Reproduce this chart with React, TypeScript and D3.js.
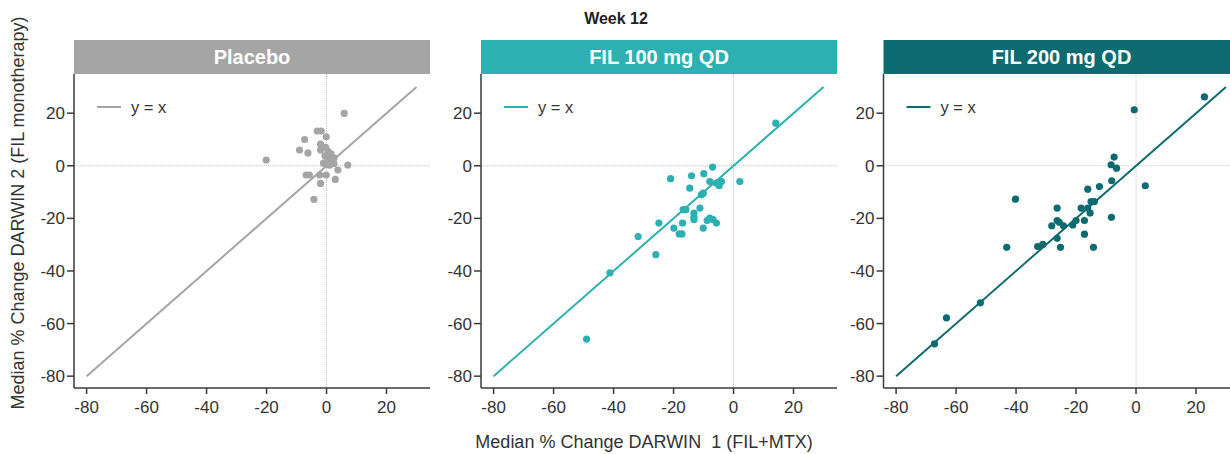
import * as d3 from "d3";

const panelNames = ["Placebo", "FIL 100 mg QD", "FIL 200 mg QD"];
const panelColors = ["#a5a5a5", "#2cb0b2", "#0b6b71"];
const xTicks = [-80, -60, -40, -20, 0, 20];
const yTicks = [-80, -60, -40, -20, 0, 20];

const placeboPts = [
  [5.9, 19.9], [-20.1, 2.2], [-3.1, 13.2], [-1.8, 13.2], [-0.1, 11], [-7.3, 10], [-9, 6], [-6.2, 4.9],
  [-2, 8.2], [-2, 6], [-0.3, 7], [0.5, 5.5], [1.5, 4.5], [-0.5, 3.8], [2.5, 3], [0.5, 2.5], [1.5, 1.8],
  [-1, 1], [0, 0.5], [2.5, 0.8], [1, 0.2], [7.1, 0.3], [3.8, -1.6], [2.9, -5.2], [-6.8, -3.5],
  [-5.7, -3.5], [-2.3, -3.5], [-0.1, -3.5], [-2, -6.7], [-4.2, -12.8],
];

const fil100Pts = [
  [14.1, 16.2], [-7, -0.5], [-21, -4.9], [-14, -3.8], [-9.9, -3], [-7.9, -6], [-5.7, -6.6], [-4, -6],
  [-4.8, -7.6], [2.1, -6], [-14.6, -8.5], [-10.7, -11], [-10.1, -10.4], [-16.8, -16.7], [-15.9, -16.7],
  [-11.2, -16.1], [-13.2, -18], [-13.2, -19.5], [-13.2, -20.5], [-24.9, -21.8], [-17, -21.8],
  [-19.9, -23.7], [-7.9, -19.9], [-6.8, -20.5], [-8.8, -20.8], [-5.7, -21.8], [-10.1, -23.7],
  [-18.1, -25.9], [-17.2, -25.9], [-31.8, -26.9], [-25.9, -33.8], [-41.2, -40.7], [-49, -65.9],
];

const fil200Pts = [
  [22.8, 26.2], [-0.6, 21.3], [-7.3, 3.3], [-8.3, 0.4], [-6.5, -0.9], [-8.1, -5.7], [3.1, -7.6],
  [-12.2, -7.9], [-16.1, -8.9], [-40.2, -12.7], [-15, -13.6], [-13.9, -13.6], [-18.3, -16.1],
  [-16.1, -16.1], [-26.3, -16.1], [-15.3, -18], [-8.2, -19.6], [-17.2, -20.8], [-20, -20.8],
  [-26.3, -20.8], [-25.6, -21.5], [-21.1, -22.5], [-28.1, -22.8], [-24.2, -22.8], [-17.2, -26],
  [-26.3, -27.6], [-31.1, -29.9], [-32.8, -30.7], [-25.2, -31], [-14.2, -31], [-43.1, -31],
  [-51.9, -52.1], [-63.2, -57.8], [-67.2, -67.7],
];

const panelData = [placeboPts, fil100Pts, fil200Pts];
const identity = [-80, 30];

const font = "'Liberation Sans', Arial, sans-serif";
const panelLefts = [74, 481, 883.5];
const panelW = 356;
const headTop = 40;
const plotTop = 74;
const plotBottom = 388;
const axisColor = "#3a3a3a";

function Panel({ idx }: { idx: number }) {
  const left = panelLefts[idx];
  const color = panelColors[idx];
  const x = d3.scaleLinear().domain([-84.2, 34.5]).range([left, left + panelW]);
  const y = d3.scaleLinear().domain([-84.5, 34.9]).range([plotBottom, plotTop]);
  const line = d3.line<number>().x((d) => x(d)).y((d) => y(d));
  return (
    <g>
      <rect x={left} y={headTop} width={panelW} height={plotTop - headTop} fill={color} />
      <text x={left + panelW / 2} y={64} textAnchor="middle" fill="#fff" fontWeight="bold" fontSize={20} fontFamily={font}>
        {panelNames[idx]}
      </text>
      <line x1={x(0)} x2={x(0)} y1={plotTop} y2={plotBottom} stroke="#c4c4c4" strokeWidth={1} strokeDasharray="1,1" />
      <line x1={left} x2={left + panelW} y1={y(0)} y2={y(0)} stroke="#c4c4c4" strokeWidth={1} strokeDasharray="1,1" />
      <path d={line(identity) ?? ""} stroke={color} strokeWidth={2} fill="none" />
      {panelData[idx].map((p, i) => (
        <circle key={i} cx={x(p[0])} cy={y(p[1])} r={3.6} fill={color} />
      ))}
      <line x1={left + 23} x2={left + 47} y1={107} y2={107} stroke={color} strokeWidth={2} />
      <text x={left + 57} y={113} fontSize={16.5} fill="#333" fontFamily={font}>y = x</text>
      <line x1={left} x2={left} y1={plotTop} y2={plotBottom} stroke={axisColor} strokeWidth={1.5} />
      <line x1={left} x2={left + panelW} y1={plotBottom} y2={plotBottom} stroke={axisColor} strokeWidth={1.5} />
      {xTicks.map((t) => (
        <g key={"x" + t}>
          <line x1={x(t)} x2={x(t)} y1={plotBottom} y2={plotBottom + 6} stroke={axisColor} strokeWidth={1.5} />
          <text x={x(t)} y={plotBottom + 25} textAnchor="middle" fontSize={17} fill="#333" fontFamily={font}>{t}</text>
        </g>
      ))}
      {yTicks.map((t) => (
        <g key={"y" + t}>
          <line x1={left - 7} x2={left} y1={y(t)} y2={y(t)} stroke={axisColor} strokeWidth={1.5} />
          <text x={left - 9} y={y(t) + 6} textAnchor="end" fontSize={17} fill="#333" fontFamily={font}>{t}</text>
        </g>
      ))}
    </g>
  );
}

export default function App() {
  return (
    <svg width={1230} height={454} style={{ position: "absolute", left: 0, top: 0, background: "#fff" }}>
      <text x={616} y={24} textAnchor="middle" fontWeight="bold" fontSize={16} fill="#222" fontFamily={font}>Week 12</text>
      {panelNames.map((_, i) => (
        <Panel key={i} idx={i} />
      ))}
      <text transform="translate(24,213) rotate(-90)" textAnchor="middle" fontSize={18} fill="#333" fontFamily={font}>
        Median % Change DARWIN 2 (FIL monotherapy)
      </text>
      <text x={644} y={448} textAnchor="middle" fontSize={18} fill="#333" fontFamily={font} style={{ whiteSpace: "pre" }}>
        {"Median % Change DARWIN  1 (FIL+MTX)"}
      </text>
    </svg>
  );
}
